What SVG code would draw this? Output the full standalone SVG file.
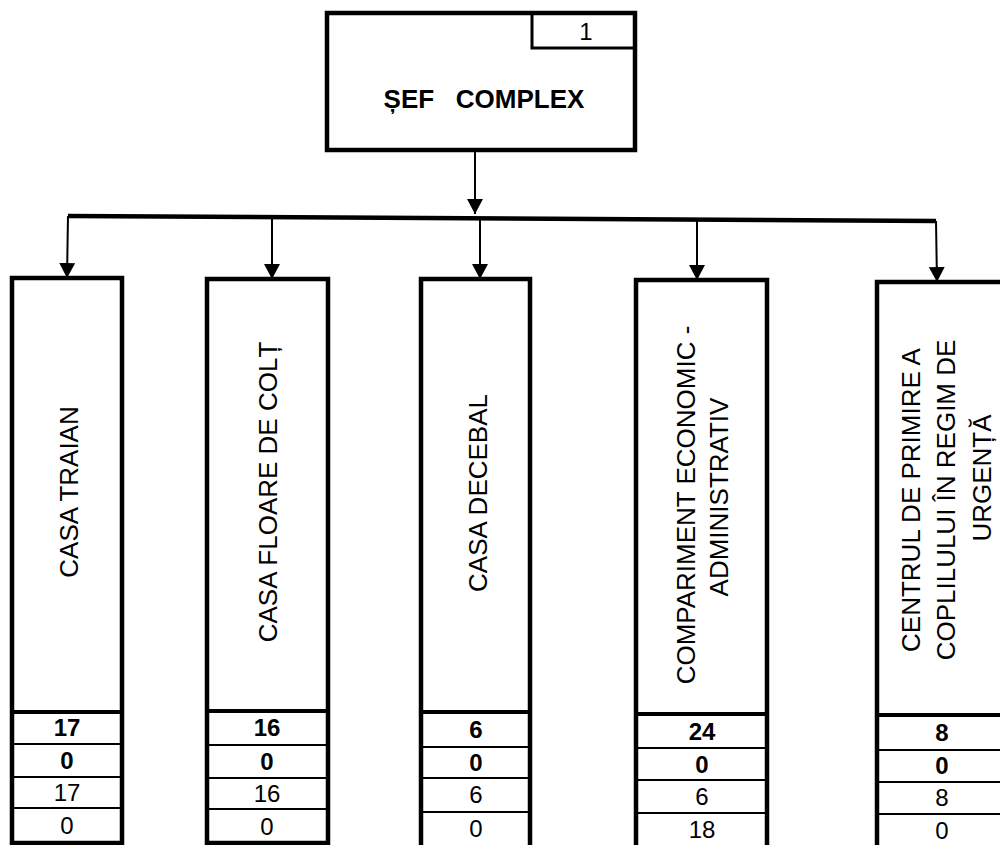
<svg xmlns="http://www.w3.org/2000/svg" width="1000" height="845" viewBox="0 0 1000 845">
<defs>
<marker id="ah" markerUnits="userSpaceOnUse" markerWidth="15" markerHeight="16" refX="15" refY="8" orient="auto" viewBox="0 0 15 16">
<path d="M0,0 L15,8 L0,16 z" fill="#000"/>
</marker>
</defs>
<style>
.box{fill:#fff;stroke:#000;stroke-width:4.5}
.sep{stroke:#000;stroke-width:2}
.sepT{stroke:#000;stroke-width:4}
.lbl{font-family:"Liberation Sans",Arial,sans-serif;font-size:26px;fill:#000;text-anchor:middle}
.num{font-family:"Liberation Sans",Arial,sans-serif;font-size:24px;fill:#000;text-anchor:middle}
.b{font-weight:bold}
.conn{stroke:#000;stroke-width:2;fill:none}
</style>
<rect width="1000" height="845" fill="#fff"/>

<g id="connectors">
<polyline points="68,216 936,221" stroke="#000" stroke-width="4.5" fill="none"/>
<line class="conn" x1="475" y1="150" x2="475" y2="214" marker-end="url(#ah)"/>
<line class="conn" x1="68" y1="216" x2="67" y2="278" marker-end="url(#ah)"/>
<line class="conn" x1="272" y1="218" x2="272" y2="279" marker-end="url(#ah)"/>
<line class="conn" x1="480" y1="219" x2="480" y2="279" marker-end="url(#ah)"/>
<line class="conn" x1="697" y1="220" x2="697" y2="280" marker-end="url(#ah)"/>
<line class="conn" x1="936" y1="221" x2="937" y2="282" marker-end="url(#ah)"/>
</g>

<g id="sef">
<rect class="box" x="327" y="13" width="308" height="137"/>
<rect x="532" y="13" width="103" height="35" fill="none" stroke="#000" stroke-width="3"/>
<text class="num" x="586" y="40">1</text>
<text class="lbl b" x="484" y="108" xml:space="preserve">ȘEF   COMPLEX</text>
</g>

<g id="casa-traian">
<rect class="box" x="12" y="278" width="110" height="565"/>
<line class="sepT" x1="12" y1="712" x2="122" y2="712"/>
<line class="sep" x1="12" y1="744" x2="122" y2="744"/>
<line class="sep" x1="12" y1="777" x2="122" y2="777"/>
<line class="sep" x1="12" y1="808" x2="122" y2="808"/>
<text class="lbl" transform="translate(78,492) rotate(-90)">CASA TRAIAN</text>
<text class="num b" x="67" y="736">17</text>
<text class="num b" x="67" y="769">0</text>
<text class="num" x="67" y="801">17</text>
<text class="num" x="67" y="834">0</text>
</g>

<g id="casa-floare-de-colt">
<rect class="box" x="207" y="279" width="121" height="564"/>
<line class="sepT" x1="207" y1="711" x2="328" y2="711"/>
<line class="sep" x1="207" y1="745" x2="328" y2="745"/>
<line class="sep" x1="207" y1="778" x2="328" y2="778"/>
<line class="sep" x1="207" y1="809" x2="328" y2="809"/>
<text class="lbl" transform="translate(277,492) rotate(-90)">CASA FLOARE DE COLȚ</text>
<text class="num b" x="267" y="736">16</text>
<text class="num b" x="267" y="770">0</text>
<text class="num" x="267" y="802">16</text>
<text class="num" x="267" y="835">0</text>
</g>

<g id="casa-decebal">
<rect class="box" x="421" y="279" width="109" height="572"/>
<line class="sepT" x1="421" y1="712" x2="530" y2="712"/>
<line class="sep" x1="421" y1="747" x2="530" y2="747"/>
<line class="sep" x1="421" y1="778" x2="530" y2="778"/>
<line class="sep" x1="421" y1="812" x2="530" y2="812"/>
<text class="lbl" transform="translate(487,493) rotate(-90)">CASA DECEBAL</text>
<text class="num b" x="476" y="738">6</text>
<text class="num b" x="476" y="771">0</text>
<text class="num" x="476" y="803">6</text>
<text class="num" x="476" y="837">0</text>
</g>

<g id="compartiment">
<rect class="box" x="636" y="280" width="131" height="571"/>
<line class="sepT" x1="636" y1="714" x2="767" y2="714"/>
<line class="sep" x1="636" y1="748" x2="767" y2="748"/>
<line class="sep" x1="636" y1="780" x2="767" y2="780"/>
<line class="sep" x1="636" y1="813" x2="767" y2="813"/>
<text class="lbl" transform="translate(695,505) rotate(-90)">COMPARIMENT ECONOMIC -</text>
<text class="lbl" transform="translate(728,497) rotate(-90)">ADMINISTRATIV</text>
<text class="num b" x="702" y="740">24</text>
<text class="num b" x="702" y="773">0</text>
<text class="num" x="702" y="805">6</text>
<text class="num" x="702" y="838">18</text>
</g>

<g id="centrul">
<rect class="box" x="877" y="282" width="135" height="570"/>
<line class="sepT" x1="877" y1="715" x2="1012" y2="715"/>
<line class="sep" x1="877" y1="750" x2="1012" y2="750"/>
<line class="sep" x1="877" y1="782" x2="1012" y2="782"/>
<line class="sep" x1="877" y1="814" x2="1012" y2="814"/>
<text class="lbl" transform="translate(920,500) rotate(-90)">CENTRUL DE PRIMIRE A</text>
<text class="lbl" transform="translate(955,500) rotate(-90)">COPLILULUI ÎN REGIM DE</text>
<text class="lbl" transform="translate(991,478) rotate(-90)">URGENȚĂ</text>
<text class="num b" x="942" y="741">8</text>
<text class="num b" x="942" y="774">0</text>
<text class="num" x="942" y="806">8</text>
<text class="num" x="942" y="839">0</text>
</g>
</svg>
